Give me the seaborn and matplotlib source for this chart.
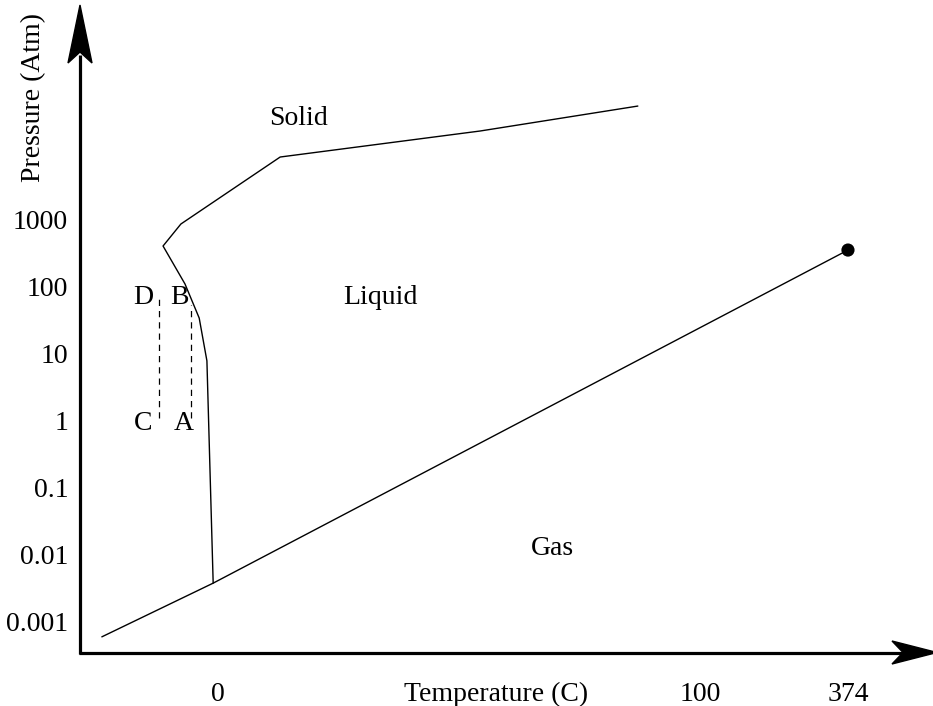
import numpy as np
import pandas as pd
import seaborn as sns
import matplotlib.pyplot as plt
from matplotlib.patches import Polygon

# Datos del diagrama de fases (eje x esquematico, presion en atm, escala log)
vapor_temp = [-24.1, -1.0, 130.7]
vapor_pres = [6.0e-4, 3.8e-3, 356.0]

fusion_temp = [-1.0, -2.3, -3.9, -6.85, -11.4, -7.7, 12.9, 54.4, 87.1]
fusion_pres = [3.8e-3, 7.9, 34.4, 111.0, 409.0, 871.0, 8710.0, 21300.0, 50200.0]

critico_temp = [130.7]
critico_pres = [356.0]

cd_temp = [-12.2, -12.2]
cd_pres = [1.11, 71.0]
ab_temp = [-5.6, -5.6]
ab_pres = [1.11, 53.8]

yticks = [0.001, 0.01, 0.1, 1, 10, 100, 1000]
ytick_labels = ['0.001', '0.01', '0.1', '1', '10', '100', '1000']
xticks = [0, 100, 130.7]
xtick_labels = ['0', '100', '374']

sns.set_theme(style='white')
plt.rcParams['font.family'] = ['Liberation Serif', 'DejaVu Serif']
plt.rcParams['text.color'] = 'black'

fig = plt.figure(figsize=(9.33, 7.06), dpi=100)
ax = fig.add_axes([80 / 933, (706 - 653) / 706, (933 - 80) / 933, (653 - 5) / 706])

vapor = pd.DataFrame({'T': vapor_temp, 'P': vapor_pres})
fusion = pd.DataFrame({'T': fusion_temp, 'P': fusion_pres})
sns.lineplot(data=vapor, x='T', y='P', sort=False, color='black', lw=1.0, ax=ax)
sns.lineplot(data=fusion, x='T', y='P', sort=False, color='black', lw=1.0, ax=ax)
# lineas punteadas C-D y A-B
ax.plot(cd_temp, cd_pres, color='black', lw=0.9, dashes=(5, 4))
ax.plot(ab_temp, ab_pres, color='black', lw=0.9, dashes=(5, 4))
sns.scatterplot(x=critico_temp, y=critico_pres, color='black', s=90, ax=ax,
                edgecolor='none', zorder=5)

ax.set_yscale('log')
ax.set_xlim(-28.63, 148.34)
ax.set_ylim(10 ** -3.463, 10 ** 6.209)
ax.set_yticks(yticks)
ax.set_yticklabels(ytick_labels)
ax.set_xticks(xticks)
ax.set_xticklabels(xtick_labels)
ax.minorticks_off()
ax.tick_params(axis='both', length=0, labelsize=20, colors='black')
ax.tick_params(axis='y', pad=8.5)
ax.tick_params(axis='x', pad=21)
for s in ax.spines.values():
    s.set_visible(False)
ax.grid(False)

ax.set_xlabel('Temperature (C)', fontsize=20, color='black')
ax.xaxis.set_label_coords((496 - 80) / 853, (653 - 682) / 648)
ax.set_ylabel('Pressure (Atm)', fontsize=20, color='black', va='center')
ax.yaxis.set_label_coords((34 - 80) / 853, (653 - 97) / 648)

# Etiquetas de regiones
fs = 20
ax.text(16.8, 10 ** 4.52, 'Solid', fontsize=fs, ha='center', va='center')
ax.text(33.6, 10 ** 1.84, 'Liquid', fontsize=fs, ha='center', va='center')
ax.text(69.3, 10 ** -1.90, 'Gas', fontsize=fs, ha='center', va='center')
ax.text(-15.6, 10 ** 1.746, 'D', fontsize=fs, ha='center', va='baseline')
ax.text(-7.9, 10 ** 1.746, 'B', fontsize=fs, ha='center', va='baseline')
ax.text(-15.5, 10 ** -0.134, 'C', fontsize=fs, ha='center', va='baseline')
ax.text(-7.2, 10 ** -0.134, 'A', fontsize=fs, ha='center', va='baseline')


# Ejes con flechas
def px(x, y):
    return ((x - 80) / 853, (653 - y) / 648)


ax.plot(*zip(px(80, 654), px(80, 55)), transform=ax.transAxes, color='black',
        lw=2.3, clip_on=False, solid_capstyle='butt')
ax.plot(*zip(px(79, 652.5), px(905, 652.5)), transform=ax.transAxes, color='black',
        lw=2.3, clip_on=False, solid_capstyle='butt')
ax.add_patch(Polygon([px(80, 5), px(68, 63), px(80, 52), px(92, 63)], closed=True,
                     transform=ax.transAxes, color='black', clip_on=False))
ax.add_patch(Polygon([px(937, 652.5), px(892, 641), px(903, 652.5), px(892, 664)],
                     closed=True, transform=ax.transAxes, color='black', clip_on=False))

plt.savefig('out.png', dpi=100)
